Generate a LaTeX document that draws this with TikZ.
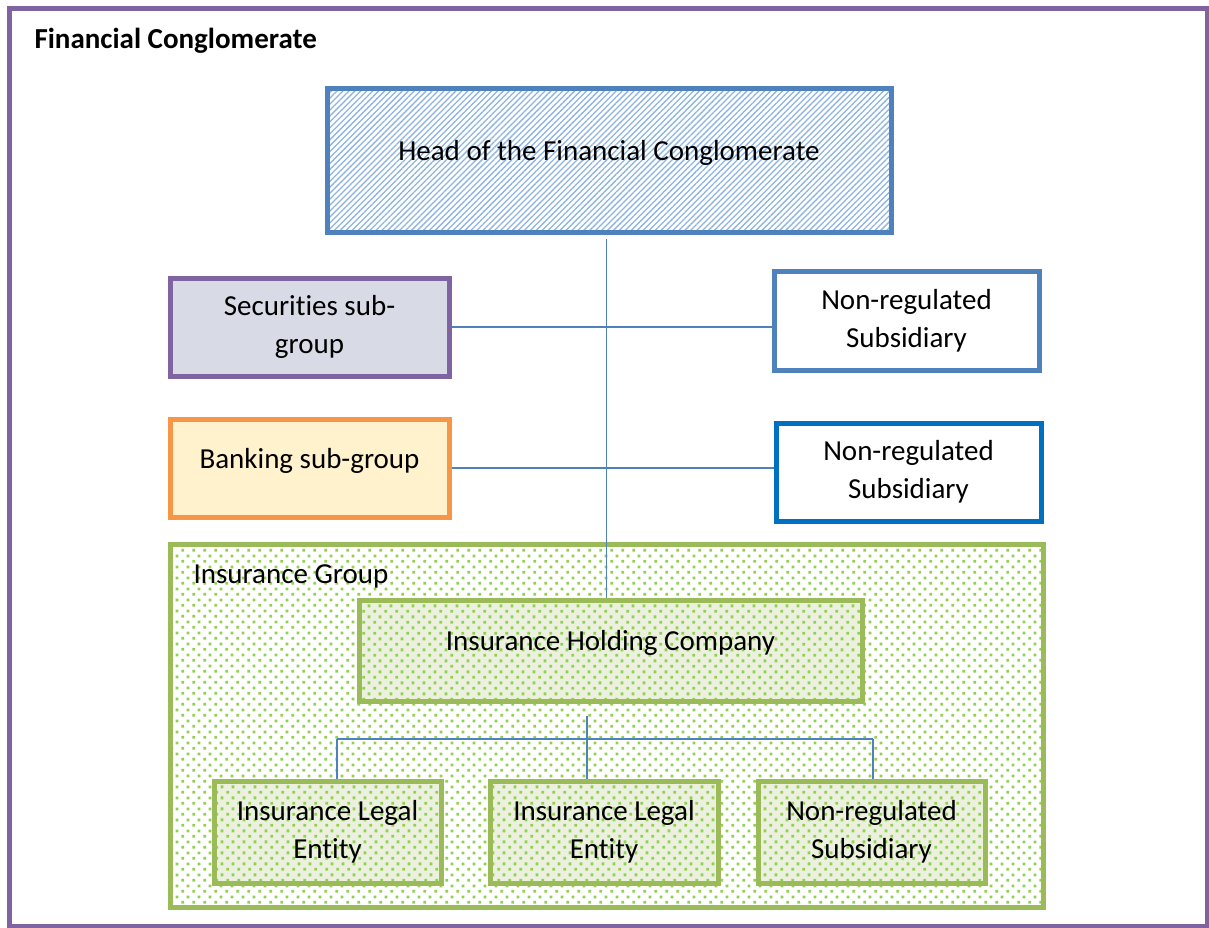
\documentclass[tikz,border=0pt]{standalone}
\usepackage{fontspec}
\setmainfont{Carlito}[Ligatures=NoCommon]
\usetikzlibrary{patterns.meta}
\definecolor{frameP}{HTML}{8064A2}
\definecolor{boxB}{HTML}{4F81BD}
\definecolor{boxB2}{HTML}{0070C0}
\definecolor{boxO}{HTML}{F79646}
\definecolor{boxG}{HTML}{9BBB59}
\definecolor{dotG}{HTML}{92D050}
\definecolor{fillS}{HTML}{D8DBE5}
\definecolor{fillY}{HTML}{FFF2CC}
\definecolor{fillG}{HTML}{EBF1DE}
\definecolor{hatchB}{HTML}{8EB4E3}
\tikzdeclarepattern{
  name=gdots, type=uncolored,
  bounding box={(0pt,0pt) and (11.3pt,11.3pt)},
  tile size={(11.3pt,11.3pt)},
  code={\pgfpathrectangle{\pgfpoint{1.4pt}{1.4pt}}{\pgfpoint{3pt}{3pt}}%
        \pgfpathrectangle{\pgfpoint{7.05pt}{7.05pt}}{\pgfpoint{3pt}{3pt}}%
        \pgfusepath{fill}}
}
\tikzset{
  txt/.style={font=\fontsize{29}{38}\selectfont, align=center, text=black},
  box/.style={txt, draw, line width=5pt, inner sep=0pt},
  conn/.style={draw=boxB, line width=1.8pt},
  dotted fill/.style={pattern=gdots, pattern color=dotG},
}
\begin{document}
\begin{tikzpicture}[x=1pt,y=-1pt]
\useasboundingbox (0,0) rectangle (1209,927);
\fill[white] (0,0) rectangle (1209,927);
\draw[frameP, line width=5pt] (9,8) rectangle (1207,926);
\node[txt, font=\fontsize{29}{38}\selectfont\bfseries, anchor=base west] (title) at (31,48) {Financial Conglomerate};

% head
\node[box, draw=boxB, minimum width=564pt, minimum height=144pt,
  pattern={Lines[angle=45, distance=4.2pt, line width=1.3pt]}, pattern color=hatchB] (head) at (609,160) {\raisebox{20pt}{Head of the Financial Conglomerate}};

\node[box, draw=frameP, fill=fillS, minimum width=279pt, minimum height=98pt] (sec) at (309.5,327) {Securities sub-\\group};
\node[box, draw=boxB, fill=white, minimum width=265pt, minimum height=99pt] (nr1) at (906.5,320.5) {Non-regulated\\Subsidiary};
\node[box, draw=boxO, fill=fillY, minimum width=279pt, minimum height=98pt] (bank) at (309.5,468) {\raisebox{19pt}{Banking sub-group}};
\node[box, draw=boxB2, fill=white, minimum width=265pt, minimum height=98pt] (nr2) at (908.5,472) {Non-regulated\\Subsidiary};

% insurance group
\node[box, draw=boxG, preaction={fill=white}, dotted fill, minimum width=873pt, minimum height=363pt] (grp) at (606.5,725.5) {};
\node[txt, anchor=base west] (grplabel) at (190,583) {Insurance Group};
\node[box, draw=boxG, preaction={fill=fillG}, dotted fill, minimum width=503pt, minimum height=101pt] (hold) at (610.5,650.5) {\raisebox{21pt}{Insurance Holding Company}};
\node[box, draw=boxG, preaction={fill=fillG}, dotted fill, minimum width=227pt, minimum height=102pt] (ile1) at (327.5,832) {Insurance Legal\\Entity};
\node[box, draw=boxG, preaction={fill=fillG}, dotted fill, minimum width=228pt, minimum height=102pt] (ile2) at (604,832) {Insurance Legal\\Entity};
\node[box, draw=boxG, preaction={fill=fillG}, dotted fill, minimum width=227pt, minimum height=102pt] (nrs) at (871.5,832) {Non-regulated\\Subsidiary};

% connectors
\coordinate (hb) at (606.5,239);
\coordinate (hj) at (587,716);
\coordinate (barL) at (337,739);
\coordinate (barR) at (873,739);
\draw[conn] (hb) -- (hb |- hold.north);
\draw[conn] (sec.east) -- (nr1.west |- sec.east);
\draw[conn] (bank.east) -- (nr2.west |- bank.east);
\draw[conn] (hj) -- (hj |- ile2.north);
\draw[conn] (barL) -- (barR);
\draw[conn] (barL) -- (barL |- ile1.north);
\draw[conn] (barR) -- (barR |- nrs.north);
\end{tikzpicture}
\end{document}
